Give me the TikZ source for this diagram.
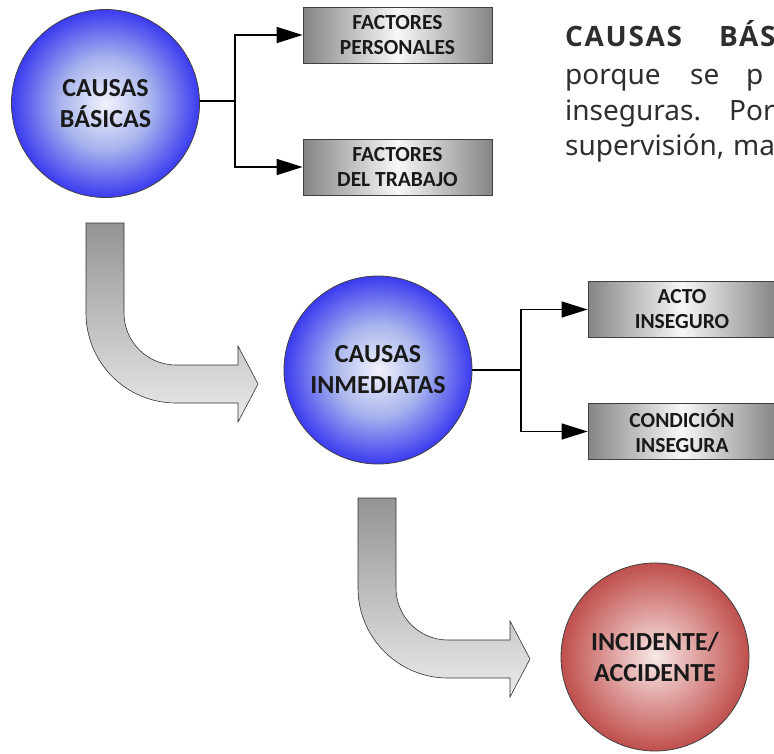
\documentclass[tikz,border=0pt]{standalone}
\usepackage{fontspec}
\setmainfont{Carlito}
\newfontfamily\parafont{Noto Sans}
\newfontfamily\parabfont{Open Sans}[LetterSpace=6]
\usetikzlibrary{arrows.meta}
\pgfdeclareradialshading{bluerad}{\pgfpoint{0bp}{0bp}}{rgb(0bp)=(0.95,0.95,0.99); rgb(12bp)=(0.66,0.71,0.93); rgb(25bp)=(0.23,0.23,0.94); rgb(50bp)=(0.23,0.23,0.94)}
\pgfdeclareradialshading{redrad}{\pgfpoint{0bp}{0bp}}{rgb(0bp)=(0.97,0.91,0.91); rgb(12bp)=(0.87,0.62,0.61); rgb(25bp)=(0.75,0.31,0.30); rgb(50bp)=(0.75,0.31,0.30)}
\begin{document}
\begin{tikzpicture}[x=1pt,y=-1pt,
  cause/.style={circle, draw=black!75, line width=0.8pt, minimum size=188pt, inner sep=0pt, align=center, font=\fontsize{26}{31}\selectfont\bfseries, text=black!90},
  bluec/.style={cause, shade, shading=bluerad},
  redc/.style={cause, shade, shading=redrad},
  factor/.style={draw=black!75, line width=0.8pt, minimum width=189pt, minimum height=56pt, inner sep=0pt, align=center, font=\fontsize{21.5}{25}\selectfont\bfseries, text=black!90, left color=black!48, right color=black!48, middle color=black!3},
  conn/.style={line width=1.5pt},
  tip/.style={conn, -{Triangle[length=26pt,width=16pt]}},
  bigarrow/.style={draw=black!80, line width=0.6pt, top color=black!42, bottom color=black!8},
  para/.style={inner sep=0pt, anchor=base west, font=\parafont\fontsize{28}{34}\selectfont, text=black!82},
  parab/.style={para, font=\parabfont\bfseries\fontsize{28}{34}\selectfont}
]
\useasboundingbox (0,0) rectangle (774,753);
\clip (0,0) rectangle (774,753);

% bent arrows
\draw[bigarrow] (86,223) -- (124,223) -- (124,313) arc[start angle=180, end angle=270, radius=52pt] -- (238,365) -- (238,346) -- (258,384) -- (238,422) -- (238,403) -- (176,403) arc[start angle=270, end angle=180, radius=90pt] -- cycle;
\begin{scope}[shift={(272,275)}]
\draw[bigarrow] (86,223) -- (124,223) -- (124,313) arc[start angle=180, end angle=270, radius=52pt] -- (238,365) -- (238,346) -- (258,384) -- (238,422) -- (238,403) -- (176,403) arc[start angle=270, end angle=180, radius=90pt] -- cycle;
\end{scope}

% circles
\node[bluec] (c1) at (105.5,103.5) {CAUSAS\\BÁSICAS};
\node[bluec] (c2) at (378,370) {CAUSAS\\INMEDIATAS};
\node[redc] (c3) at (655,657) {INCIDENTE/\\ACCIDENTE};

% boxes
\node[factor] (f1) at (397.5,35) {FACTORES\\PERSONALES};
\node[factor] (f2) at (397.5,167) {FACTORES\\DEL TRABAJO};
\node[factor, minimum width=188pt] (a1) at (682,309.5) {ACTO\\INSEGURO};
\node[factor, minimum width=188pt] (a2) at (682,431.5) {CONDICIÓN\\INSEGURA};

% connectors
\coordinate (j1) at (235,101);
\coordinate (j2) at (521,370);
\draw[conn] (c1.east |- j1) -- (j1);
\draw[tip] (j1) |- (f1.west);
\draw[tip] (j1) |- (f2.west);
\draw[conn] (c2.east) -- (j2);
\draw[tip] (j2) |- (a1.west);
\draw[tip] (j2) |- (a2.west);

% paragraph (clipped at right edge)
\node[parab] (t1a) at (565,46) {CAUSAS};
\node[parab] (t1b) at (719,46) {BÁS};
\node[para] (t2a) at (565,84) {porque};
\node[para] (t2b) at (690,84) {se};
\node[para] (t2c) at (746,84) {p};
\node[para] (t3a) at (565,120) {inseguras.};
\node[para] (t3b) at (729,120) {Por};
\node[para] (t4a) at (565,155) {supervisión,};
\node[para] (t4b) at (733,155) {ma};
\end{tikzpicture}
\end{document}
